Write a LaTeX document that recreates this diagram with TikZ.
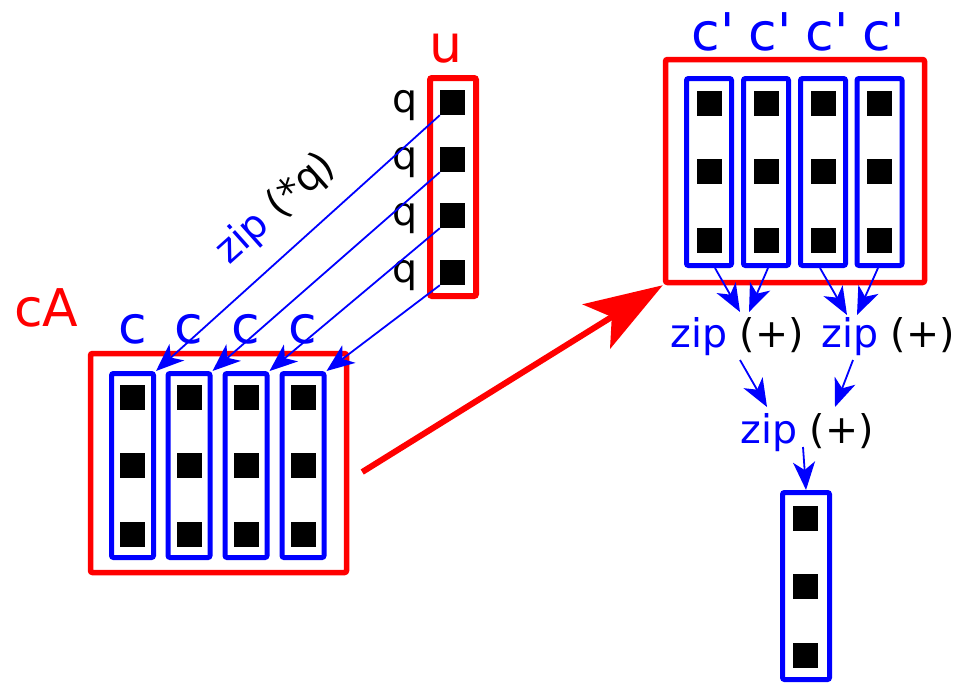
\documentclass[tikz,border=0pt]{standalone}
\usepackage{fontspec}
\setmainfont{DejaVu Sans}[Ligatures=TeXOff]
\usetikzlibrary{arrows.meta,calc}
\begin{document}
\begin{tikzpicture}[x=1pt,y=-1pt,
  redbox/.style={draw=red, line width=5.5pt, rounded corners=2pt, inner sep=0pt},
  bluecol/.style={draw=blue, line width=5pt, rounded corners=2pt, inner sep=0pt},
  sq/.style={fill=black, minimum size=25pt, inner sep=0pt},
  big/.style={font=\fontsize{52}{60}\selectfont, inner sep=0pt},
  small/.style={font=\fontsize{39.5}{46}\selectfont, inner sep=0pt},
  thinarrow/.style={draw=blue, line width=1.8pt, -{Stealth[length=28pt,width=22pt,inset=8pt]}},
  bigarrow/.style={draw=red, line width=6pt, -{Stealth[length=78pt,width=52pt,inset=18pt]}},
]
\useasboundingbox (0,0) rectangle (963,683);

% ---- left matrix cA ----
\node[redbox, minimum width=256pt, minimum height=219pt] (cA) at (218.5,463) {};
\foreach \i/\x in {1/132.5,2/189,3/246,4/303}{
  \node[bluecol, minimum width=42pt, minimum height=184pt] (lc\i) at (\x,465.5) {};
  \foreach \j/\y in {1/397.5,2/465.5,3/534.5}
    \node[sq] (ls\i\j) at (\x,\y) {};
  \node[big, text=blue, anchor=base] (lcl\i) at (\x,343) {c};
}
\node[big, text=red, anchor=base west] (lcA) at (14,326) {cA};

% ---- vector u ----
\node[redbox, line width=6pt, minimum width=46pt, minimum height=218pt] (ubox) at (453,187) {};
\node[big, text=red, anchor=base] (lu) at (446,62) {u};
\foreach \j/\y in {1/102.5,2/159.5,3/215.5,4/272.5}{
  \node[sq] (us\j) at (452.5,\y) {};
  \node[small, anchor=base east] (q\j) at (418,\y+9.5) {q};
}
\node[small, rotate=41.8] (zq) at (276,209) {\textcolor{blue}{zip} (*q)};

% ---- right matrix ----
\node[redbox, minimum width=259pt, minimum height=223pt] (rbox) at (795,171) {};
\foreach \i/\x in {1/709,2/766,3/823,4/879.5}{
  \node[bluecol, minimum width=45pt, minimum height=187pt] (rc\i) at (\x,172) {};
  \foreach \j/\y in {1/103.5,2/171.5,3/240.5}
    \node[sq] (rs\i\j) at (\x,\y) {};
  \node[big, text=blue, anchor=base] (rcl\i) at (\x+4,50) {c'};
}

% ---- zip (+) labels ----
\node[small, anchor=base] (z1) at (737,347) {\textcolor{blue}{zip} (+)};
\node[small, anchor=base] (z2) at (888,347) {\textcolor{blue}{zip} (+)};
\node[small, anchor=base] (z3) at (807,443) {\textcolor{blue}{zip} (+)};

% ---- result column ----
\node[bluecol, minimum width=47pt, minimum height=187pt] (bc) at (806,586) {};
\foreach \j/\y in {1/518.5,2/586.5,3/655.5}
  \node[sq] (bs\j) at (805.5,\y) {};

% ---- connectors ----
\foreach \i in {1,2,3,4}
  \draw[thinarrow] (us\i.south west) -- (lc\i.north east);

\draw[thinarrow] ($(rc1.south)+(6,0)$) -- ($(z1.base)+(3,-35)$);
\draw[thinarrow] ($(rc2.south)+(2,0)$) -- ($(z1.base)+(12,-35)$);
\draw[thinarrow] ($(rc3.south)+(-3,0)$) -- ($(z2.base)+(-41,-32)$);
\draw[thinarrow] ($(rc4.south)+(-1.5,0)$) -- ($(z2.base)+(-31,-32)$);
\draw[thinarrow] ($(z1.base)+(3,13)$) -- ($(z3.base)+(-40,-36)$);
\draw[thinarrow] ($(z2.base)+(-35,13)$) -- ($(z3.base)+(28,-36)$);
\draw[thinarrow] ($(z3.base)+(-4,4)$) -- (bc.north);

\draw[bigarrow] ($(cA.east)+(13,9)$) -- (rbox.south west);
\end{tikzpicture}
\end{document}
